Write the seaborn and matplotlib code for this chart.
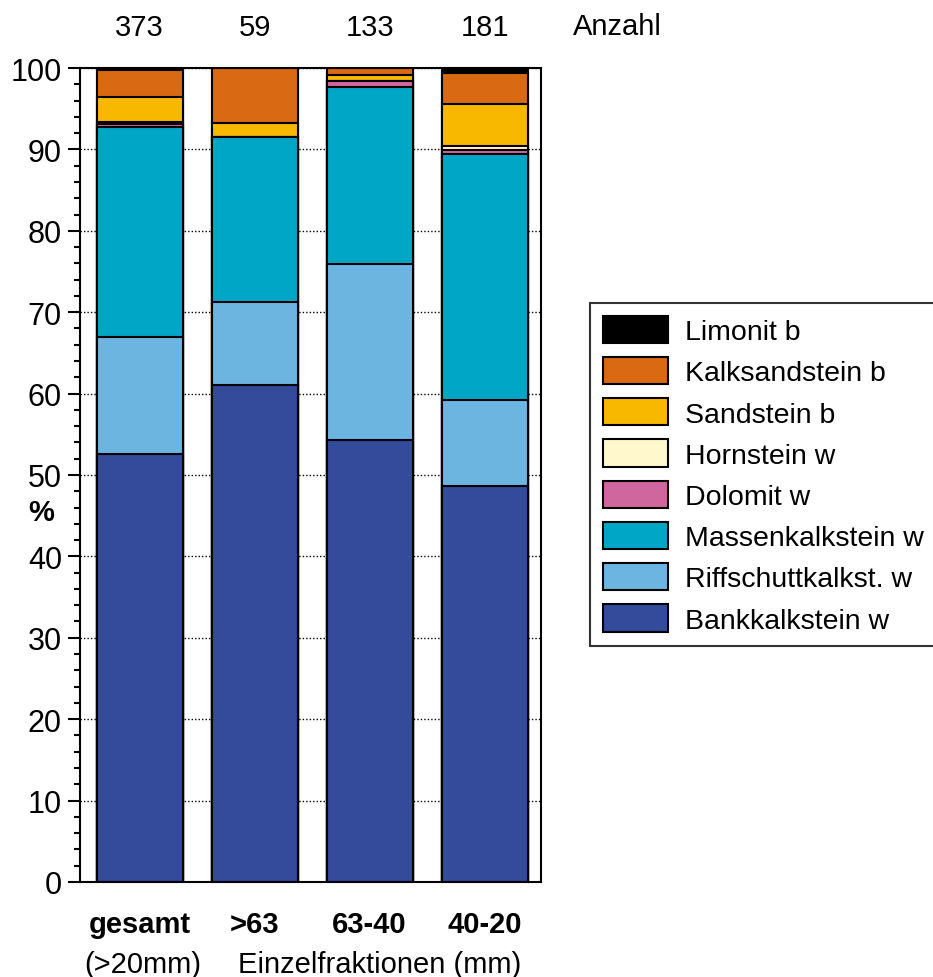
import numpy as np
import pandas as pd
import matplotlib
matplotlib.use("Agg")
import matplotlib.pyplot as plt
from matplotlib.patches import Patch
from matplotlib.ticker import MultipleLocator
import seaborn as sns

# Fractions and counts
fractions = ["gesamt", ">63", "63-40", "40-20"]
counts = [373, 59, 133, 181]

# Rock types, bottom to top of each stack
rock_types = ["Bankkalkstein w", "Riffschuttkalkst. w", "Massenkalkstein w",
              "Dolomit w", "Hornstein w", "Sandstein b", "Kalksandstein b", "Limonit b"]
colors = ["#344a9a", "#6cb5e0", "#00a6c6", "#d0669e", "#fff8cc",
          "#f9b800", "#d96912", "#000000"]

# Percent shares per fraction (same order as rock_types)
bankkalk = [52.6, 61.1, 54.3, 48.6]
riffschutt = [14.4, 10.2, 21.6, 10.6]
massenkalk = [25.7, 20.2, 21.8, 30.2]
dolomit = [0.4, 0.0, 0.7, 0.55]
hornstein = [0.3, 0.0, 0.0, 0.5]
sandstein = [3.0, 1.7, 0.8, 5.1]
kalksand = [3.3, 6.8, 0.8, 3.9]
limonit = [0.3, 0.0, 0.0, 0.6]

shares = [bankkalk, riffschutt, massenkalk, dolomit, hornstein,
          sandstein, kalksand, limonit]

sns.set_style("white")
plt.rcParams["font.family"] = ["Liberation Sans", "DejaVu Sans"]
plt.rcParams["text.color"] = "black"
plt.rcParams["axes.labelcolor"] = "black"
plt.rcParams["xtick.color"] = "black"
plt.rcParams["ytick.color"] = "black"

fig = plt.figure(figsize=(9.33, 9.78), dpi=100)
ax = fig.add_axes([0.0857, 0.0972, 0.4941, 0.8322])

cum = np.cumsum(np.array(shares), axis=0)
# Draw stacks as overlapping cumulative bars, tallest first
for i in range(len(rock_types) - 1, -1, -1):
    df = pd.DataFrame({"Fraktion": fractions, "Wert": cum[i]})
    sns.barplot(data=df, x="Fraktion", y="Wert", color=colors[i], saturation=1,
                width=0.75, edgecolor="black", linewidth=1.5, ax=ax, zorder=2)

ax.set_xlim(-0.52, 3.49)
ax.set_ylim(0, 100)
ax.yaxis.set_major_locator(MultipleLocator(10))
ax.yaxis.set_minor_locator(MultipleLocator(2))
ax.set_axisbelow(True)
ax.yaxis.grid(True, which="major", linestyle=(0, (1, 1.5)), color="black", linewidth=1)
ax.xaxis.grid(False)

for s in ax.spines.values():
    s.set_visible(True)
    s.set_color("black")
    s.set_linewidth(1.5)

ax.tick_params(axis="y", which="major", direction="out", length=9, width=1.5,
               labelsize=22, pad=4, left=True)
ax.tick_params(axis="y", which="minor", direction="out", length=4.5, width=1.5, left=True)
ax.tick_params(axis="x", length=0, pad=20)
ax.set_xticks(range(len(fractions)))
ax.set_xticklabels(fractions, fontsize=21, fontweight="bold")
ax.set_xlabel("")
ax.set_ylabel("")
fig.text(41 / 933, 1 - 513 / 978, "%", ha="center", va="center",
         fontsize=21, fontweight="bold")

for i, n in enumerate(counts):
    ax.text(i, 1.05, str(n), transform=ax.get_xaxis_transform(), ha="center",
            va="center", fontsize=21)
fig.text(617 / 933, 1 - 27 / 978, "Anzahl", ha="center", va="center", fontsize=21)
fig.text(143 / 933, 1 - 965 / 978, "(>20mm)", ha="center", va="center", fontsize=21)
fig.text(380 / 933, 1 - 965 / 978, "Einzelfraktionen (mm)", ha="center", va="center", fontsize=21)

handles = [Patch(facecolor=colors[i], edgecolor="black", linewidth=1.5)
           for i in range(len(rock_types) - 1, -1, -1)]
labels = rock_types[::-1]
leg = fig.legend(handles, labels, loc="upper left", bbox_to_anchor=(590 / 933, 1 - 304 / 978),
                 fontsize=20.5, frameon=True, fancybox=False, edgecolor="black",
                 handlelength=2.28, handleheight=1.09, labelspacing=0.42,
                 handletextpad=0.6, borderpad=0.45, borderaxespad=0)
leg.get_frame().set_linewidth(1.5)

fig.savefig("out.png", dpi=100)
